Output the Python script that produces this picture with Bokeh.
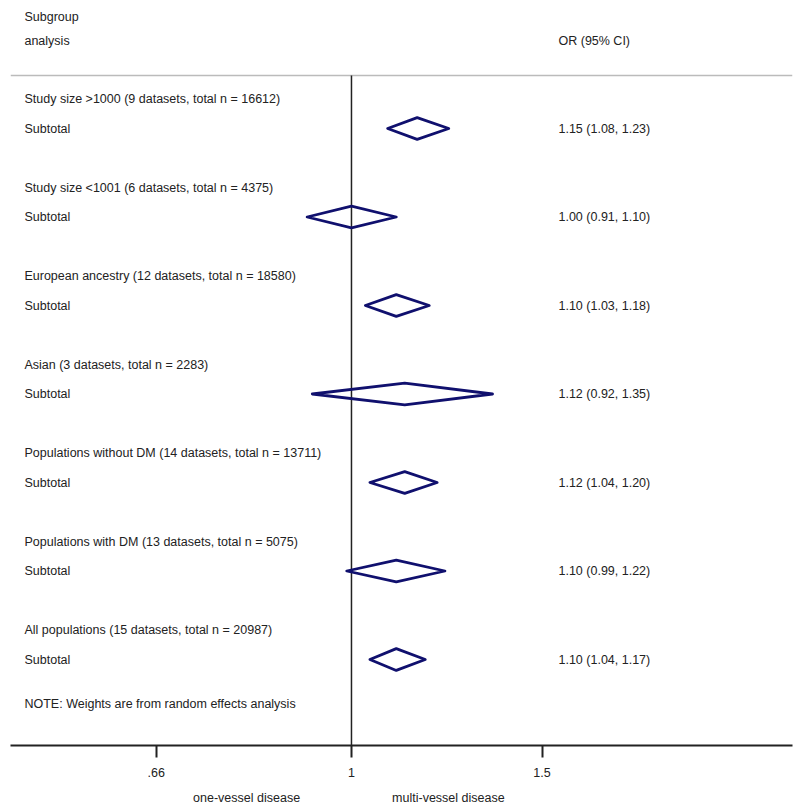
from bokeh.plotting import figure
from bokeh.models import Range1d, FixedTicker, LogAxis
from bokeh.core.properties import value
from bokeh.embed import file_html
from bokeh.resources import INLINE

groups = [
    "Study size >1000 (9 datasets, total n = 16612)",
    "Study size <1001 (6 datasets, total n = 4375)",
    "European ancestry (12 datasets, total n = 18580)",
    "Asian (3 datasets, total n = 2283)",
    "Populations without DM (14 datasets, total n = 13711)",
    "Populations with DM (13 datasets, total n = 5075)",
    "All populations (15 datasets, total n = 20987)",
]
or_est = [1.15, 1.00, 1.10, 1.12, 1.12, 1.10, 1.10]
ci_lo = [1.08, 0.91, 1.03, 0.92, 1.04, 0.99, 1.04]
ci_hi = [1.23, 1.10, 1.18, 1.35, 1.20, 1.22, 1.17]
tick_vals = [0.66, 1.0, 1.5]
tick_labels = [".66", "1", "1.5"]
side_labels = ["one-vessel disease", "multi-vessel disease"]
note = "NOTE: Weights are from random effects analysis"

FONT = "Liberation Sans"
TXT = "#222222"
NAVY = "#10106e"
FS = "12.5px"

X0, X1 = 0.4841, 2.5557

p = figure(width=800, height=811, output_backend="svg", toolbar_location=None,
           x_axis_type="log", x_range=Range1d(X0, X1),
           y_range=Range1d(21.915, -3.339), y_axis_location=None,
           min_border_left=10, min_border_right=8, min_border_top=0, min_border_bottom=66)
p.outline_line_color = None
p.grid.visible = False
p.background_fill_color = "white"
p.border_fill_color = "white"

ax = p.xaxis[0]
ax.ticker = FixedTicker(ticks=tick_vals)
ax.major_label_overrides = {t: l for t, l in zip(tick_vals, tick_labels)}
ax.minor_tick_line_color = None
ax.major_tick_in = 0
ax.major_tick_out = 12
ax.major_tick_line_width = 2
ax.axis_line_width = 2
ax.axis_line_color = "#222222"
ax.major_tick_line_color = "#222222"
ax.major_label_text_font = FONT
ax.major_label_text_font_size = FS
ax.major_label_text_color = TXT
ax.major_label_standoff = 10

side_pos = [0.80, 1.229]
ax2 = LogAxis(ticker=FixedTicker(ticks=side_pos),
              major_label_overrides={t: l for t, l in zip(side_pos, side_labels)},
              axis_line_color=None, major_tick_line_color=None, minor_tick_line_color=None,
              major_tick_out=0, major_tick_in=0, major_label_standoff=11,
              major_label_text_font=FONT, major_label_text_font_size=FS,
              major_label_text_color=TXT)
p.add_layout(ax2, "below")

# header
x_left = 0.4987
x_right = 1.5534
p.text(x=[x_left, x_left, x_right], y=[-2.763, -1.95, -1.95],
       text=["Subgroup", "analysis", "OR (95% CI)"],
       text_font=value(FONT), text_font_size=FS, text_color=TXT,
       text_baseline="middle", text_align="left")

# separator line and reference line
p.line(x=[X0, X1], y=[-0.8, -0.8], line_color="#bbbbbb", line_width=1.5)
p.line(x=[1.0, 1.0], y=[-0.8, 21.915], line_color="#222222", line_width=1.5)

head_rows = [3 * i for i in range(len(groups))]
sub_rows = [3 * i + 1 for i in range(len(groups))]
ci_text = ["%.2f (%.2f, %.2f)" % (e, l, h) for e, l, h in zip(or_est, ci_lo, ci_hi)]

p.text(x=[x_left] * len(groups), y=head_rows, text=groups,
       text_font=value(FONT), text_font_size=FS, text_color=TXT,
       text_baseline="middle", text_align="left")
p.text(x=[x_left] * len(groups), y=sub_rows, text=["Subtotal"] * len(groups),
       text_font=value(FONT), text_font_size=FS, text_color=TXT,
       text_baseline="middle", text_align="left")
p.text(x=[x_right] * len(groups), y=sub_rows, text=ci_text,
       text_font=value(FONT), text_font_size=FS, text_color=TXT,
       text_baseline="middle", text_align="left")
p.text(x=[x_left], y=[20.5], text=[note],
       text_font=value(FONT), text_font_size=FS, text_color=TXT,
       text_baseline="middle", text_align="left")

h = 0.37
xs = [[l, e, hi, e] for l, e, hi in zip(ci_lo, or_est, ci_hi)]
ys = [[r, r - h, r, r + h] for r in sub_rows]
p.patches(xs=xs, ys=ys, fill_color=None, line_color=NAVY, line_width=2.8, line_join="round")

open("out.html", "w").write(file_html(p, INLINE))
